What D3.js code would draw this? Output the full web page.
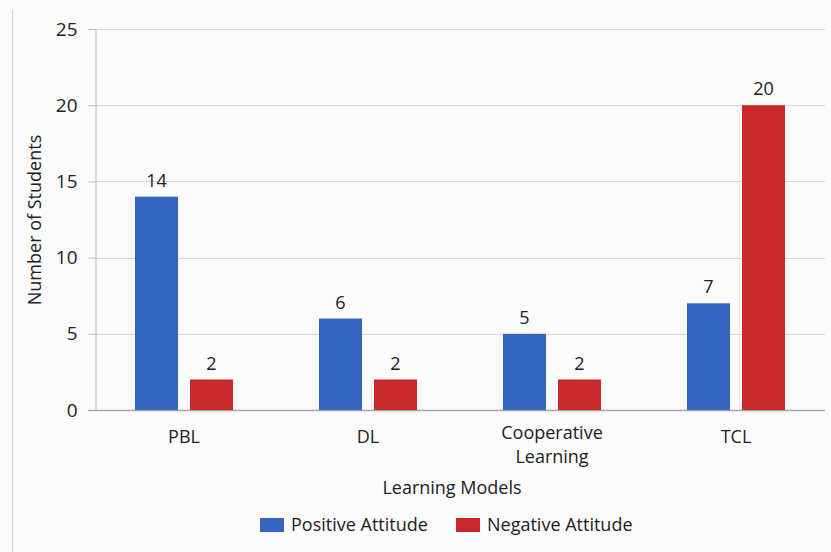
<!DOCTYPE html>
<html>
<head>
<meta charset="utf-8">
<script src="https://cdn.jsdelivr.net/npm/d3@7"></script>
<style>
  body { margin: 0; background: #fbfbfb; }
  text { font-family: "Open Sans", sans-serif; fill: #222; }
</style>
</head>
<body>
<div id="chart"></div>
<script>
const categories = ["PBL", "DL", "Cooperative Learning", "TCL"]
const positive = [14, 6, 5, 7]
const negative = [2, 2, 2, 20]
const series = ["Positive Attitude", "Negative Attitude"]
const yTicks = [0, 5, 10, 15, 20, 25]

const width = 831
const height = 552
const colors = ["#3564c1", "#c9282c"]
const fs = 18

const svg = d3.select("#chart")
    .append("svg")
    .attr("width", width)
    .attr("height", height)

// left frame line
svg.append("line")
    .attr("x1", 12.5).attr("x2", 12.5)
    .attr("y1", 10).attr("y2", height)
    .attr("stroke", "#cfcfcf")

const x = d3.scaleBand().domain(categories).range([92, 828])
const y = d3.scaleLinear().domain([0, 25]).range([410, 29])

// gridlines
svg.append("g")
    .selectAll("line")
    .data(yTicks.filter(d => d > 0))
    .join("line")
        .attr("x1", 95).attr("x2", 825)
        .attr("y1", d => Math.round(y(d)) + 0.5)
        .attr("y2", d => Math.round(y(d)) + 0.5)
        .attr("stroke", "#d9d9d9")

const yAxis = d3.axisLeft(y).tickValues(yTicks).tickSize(7).tickPadding(11)
const yAxisGroup = svg.append("g")
    .attr("transform", "translate(95.5, 0)")
    .call(yAxis)
yAxisGroup.select(".domain").attr("stroke", "#bdbdbd")
yAxisGroup.selectAll(".tick line").attr("stroke", "#bdbdbd")
yAxisGroup.selectAll(".tick text").attr("font-size", 19).attr("font-family", "Open Sans").attr("fill", "#222")

// x baseline
svg.append("line")
    .attr("x1", 88).attr("x2", 825)
    .attr("y1", 410.5).attr("y2", 410.5)
    .attr("stroke", "#a6a6a6")
    .attr("stroke-width", 1.5)

const barW = 43
const gap = 6
const data = categories.map((c, i) => ({cat: c, vals: [positive[i], negative[i]]}))

const groups = svg.selectAll(".grp")
    .data(data)
    .join("g")
        .attr("class", "grp")
        .attr("transform", d => `translate(${x(d.cat) + x.bandwidth() / 2}, 0)`)

groups.selectAll("rect")
    .data(d => d.vals)
    .join("rect")
        .attr("x", (d, i) => i === 0 ? -gap - barW : gap)
        .attr("y", d => y(d))
        .attr("width", barW)
        .attr("height", d => y(0) - y(d))
        .attr("fill", (d, i) => colors[i])

groups.selectAll(".val")
    .data(d => d.vals)
    .join("text")
        .attr("class", "val")
        .text(d => d)
        .attr("x", (d, i) => i === 0 ? -gap - barW / 2 : gap + barW / 2)
        .attr("y", d => y(d) - 10)
        .attr("text-anchor", "middle")
        .attr("font-size", fs)

// category labels (wrap on two words)
groups.append("text")
    .attr("text-anchor", "middle")
    .attr("font-size", fs)
    .each(function(d) {
        const words = d.cat.split(" ")
        const t = d3.select(this)
        if (words.length === 1) {
            t.append("tspan").attr("x", 0).attr("y", 443).text(d.cat)
        } else {
            words.forEach((w, k) => t.append("tspan").attr("x", 0).attr("y", 439 + k * 24).text(w))
        }
    })

svg.append("text")
    .text("Learning Models")
    .attr("x", 452)
    .attr("y", 494)
    .attr("text-anchor", "middle")
    .attr("font-size", fs)

svg.append("text")
    .text("Number of Students")
    .attr("transform", "translate(41, 220) rotate(-90)")
    .attr("text-anchor", "middle")
    .attr("font-size", fs)

const legend = svg.append("g")
const legendX = [260, 456]
series.forEach((s, i) => {
    legend.append("rect")
        .attr("x", legendX[i]).attr("y", 518)
        .attr("width", 24).attr("height", 14)
        .attr("fill", colors[i])
    legend.append("text")
        .text(s)
        .attr("x", legendX[i] + 31)
        .attr("y", 531)
        .attr("font-size", fs)
})
</script>
</body>
</html>
